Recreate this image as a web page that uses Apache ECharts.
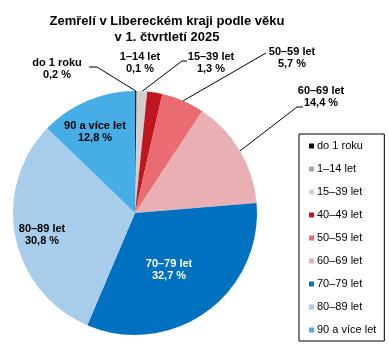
<!DOCTYPE html>
<html><head><meta charset="utf-8">
<style>html,body{margin:0;padding:0;background:#fff}#c{width:389px;height:346px}</style>
<script src="https://cdn.jsdelivr.net/npm/echarts@6/dist/echarts.min.js"></script>
</head><body><div id="c"></div>
<script>
const titleLines = ['Zemřelí v Libereckém kraji podle věku', 'v 1. čtvrtletí 2025'];
const categories = ['do 1 roku', '1–14 let', '15–39 let', '40–49 let', '50–59 let', '60–69 let', '70–79 let', '80–89 let', '90 a více let'];
const shares = [0.2, 0.1, 1.3, 2.0, 5.7, 14.4, 32.7, 30.8, 12.8];
const colors = ['#0d0d0d', '#a6a6a6', '#d0d0d0', '#c0161f', '#eb6b73', '#e8b0b3', '#0070c0', '#a7cdea', '#46ade6'];

// label placement (label centre) and style per category
const labelPos = [[57, 69], [140, 63], [211, 63], null, [292, 58], [321, 97], [169, 270], [42, 235], [95, 132]];
const labelInside = [false, false, false, false, false, false, true, true, true];
const labelColor = ['#000', '#000', '#000', '#000', '#000', '#000', '#fff', '#000', '#000'];
const lineEnds = [[[97, 67], [89, 67]], null, [[182, 61], [187, 61]], null, [[266, 53]], [[297, 107], [303, 107]], null, null, null];

const chart = echarts.init(document.getElementById('c'), null, {renderer: 'canvas'});
const data = categories.map((name, i) => ({
  name, value: shares[i],
  itemStyle: {color: colors[i]},
  label: {
    show: labelPos[i] != null,
    position: labelInside[i] ? 'inside' : 'outside',
    color: labelColor[i]
  },
  labelLine: {show: lineEnds[i] != null}
}));

chart.setOption({
  animation: false,
  title: {
    text: titleLines.join('\n'),
    left: 167, top: 13, padding: 0, textAlign: 'center',
    textStyle: {fontFamily: 'Liberation Sans, Arial, sans-serif', fontSize: 13, fontWeight: 'bold', color: '#000', lineHeight: 16}
  },
  legend: {
    orient: 'vertical',
    left: 299, top: 134,
    padding: [6, 8, 5, 10],
    borderColor: '#000', borderWidth: 1,
    itemWidth: 5, itemHeight: 5, itemGap: 11,
    icon: 'rect',
    data: categories,
    textStyle: {fontFamily: 'Liberation Sans, Arial, sans-serif', fontSize: 11, color: '#000', lineHeight: 12, padding: [0, 0, 0, -2]}
  },
  series: [{
    type: 'pie',
    center: [135, 213],
    radius: [0, 122],
    startAngle: 90,
    clockwise: true,
    avoidLabelOverlap: false,
    data,
    label: {
      formatter: p => p.name + '\n' + p.value.toFixed(1).replace('.', ',') + ' %',
      fontFamily: 'Liberation Sans, Arial, sans-serif',
      fontSize: 11, fontWeight: 'bold', lineHeight: 12, align: 'center'
    },
    labelLine: {lineStyle: {color: '#000', width: 1}, length: 10, length2: 5},
    labelLayout: function (params) {
      const i = params.dataIndex;
      const pos = labelPos[i];
      if (!pos) return {};
      const res = {x: pos[0], y: pos[1], align: 'center', verticalAlign: 'middle'};
      if (lineEnds[i] && params.labelLinePoints) {
        res.labelLinePoints = [params.labelLinePoints[0]].concat(lineEnds[i]);
      }
      return res;
    },
    emphasis: {disabled: true}
  }]
});
</script></body></html>
